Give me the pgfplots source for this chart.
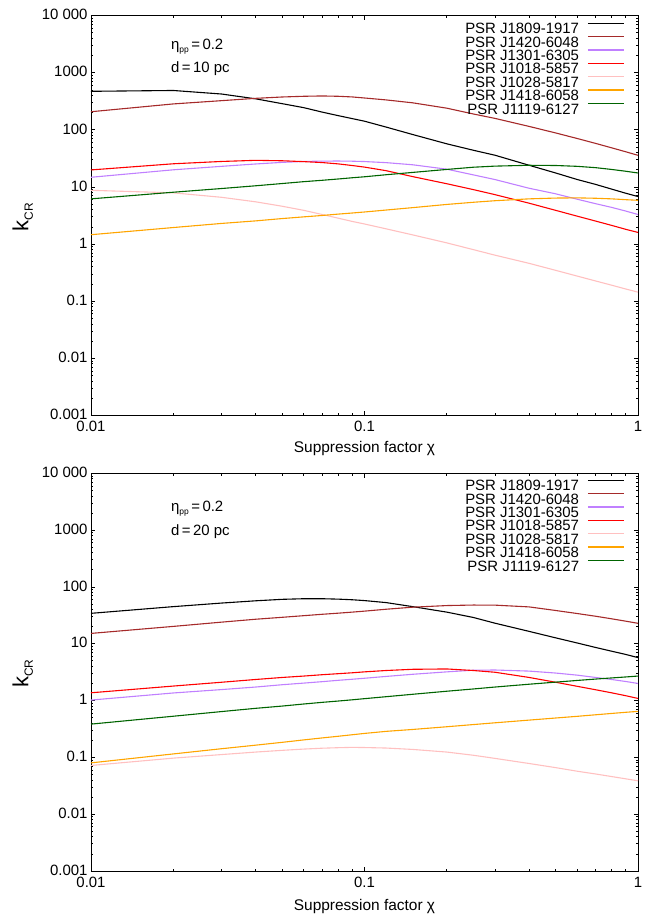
\documentclass[border=0pt]{standalone}
\usepackage{fontspec}
\setmainfont{Liberation Sans}
\usepackage{pgfplots}
\usepackage{pgfplotstable}
\pgfplotsset{compat=1.18}

\definecolor{cbrown}{HTML}{A52A2A}
\definecolor{cpurple}{HTML}{C080FF}
\definecolor{cred}{HTML}{FF0000}
\definecolor{cpink}{HTML}{FFC0C0}
\definecolor{corange}{HTML}{FFA500}
\definecolor{cgreen}{HTML}{006400}

% x  J1809  J1420  J1301  J1018  J1028  J1418  J1119
\pgfplotstableread{
x    a     b     c     d     e      f     g
0.01 474   208   14.8  19.9  8.75   1.46  6.2
0.02 490   285   20.0  25.5  7.9    1.95  8.1
0.03 425   325   23.0  28.0  6.6    2.3   9.4
0.04 350   357   25.3  29.3  5.5    2.55  10.5
0.05 288   377   27.0  28.8  4.6    2.8   11.5
0.06 245   388   28.0  27.8  3.9    3.0   12.4
0.07 205   393   28.4  26.8  3.3    3.17  13.1
0.08 178   388   28.5  25.4  2.85   3.35  13.8
0.09 158   378   28.3  23.8  2.5    3.5   14.5
0.10 142   362   27.9  22.3  2.25   3.65  15.1
0.12 112   335   26.7  19.3  1.85   3.95  16.4
0.15 83    298   24.5  15.2  1.45   4.35  18.0
0.20 57    240   20.5  11.4  1.05   4.95  20.3
0.25 44    190   16.3  9.0   0.80   5.4   22.2
0.30 36    159   13.5  7.35  0.64   5.75  23.2
0.40 24    115   9.5   5.2   0.46   6.2   24.0
0.50 17.6  88.4  7.6   3.9   0.347  6.4   23.8
0.60 13.5  70.6  6.1   3.08  0.275  6.45  23.0
0.70 11.1  58    5.1   2.53  0.226  6.35  21.8
0.80 9.2   48.6  4.4   2.13  0.191  6.2   20.3
0.90 7.8   41.5  3.8   1.82  0.164  6.0   18.9
1.00 6.8   35.9  3.3   1.6   0.144  5.85  17.6
}\toptab

\pgfplotstableread{
x    a     b     c     d     e      f      g
0.01 34.3  15.2  1.02  1.37  0.072  0.080  0.385
0.02 45    20.2  1.36  1.8   0.097  0.115  0.53
0.03 52    24    1.56  2.1   0.112  0.142  0.64
0.04 57    27    1.73  2.35  0.124  0.164  0.73
0.05 60.5  29.2  1.9   2.55  0.133  0.184  0.80
0.06 62    31.2  2.03  2.7   0.140  0.203  0.87
0.07 62    33    2.15  2.85  0.145  0.220  0.93
0.08 61    34.5  2.27  2.97  0.148  0.235  0.98
0.09 59.5  36    2.37  3.08  0.150  0.250  1.03
0.10 57.5  37.5  2.47  3.2   0.149  0.264  1.08
0.12 53    40.5  2.66  3.38  0.146  0.287  1.17
0.15 45    44    2.9   3.55  0.138  0.310  1.29
0.20 36    47    3.2   3.6   0.124  0.346  1.46
0.25 29    48    3.42  3.38  0.109  0.378  1.6
0.30 23    47.8  3.45  3.15  0.096  0.406  1.73
0.40 16.5  44.5  3.3   2.55  0.078  0.453  1.94
0.50 12.7  38.5  3.05  2.1   0.066  0.493  2.11
0.60 10.3  34    2.8   1.78  0.057  0.528  2.26
0.70 8.6   30.5  2.55  1.55  0.051  0.562  2.39
0.80 7.4   27.5  2.35  1.37  0.046  0.593  2.5
0.90 6.5   25    2.17  1.22  0.042  0.621  2.6
1.00 5.7   22.9  2.0   1.09  0.0387 0.645  2.7
}\bottab

\newcommand{\annot}[1]{\fontsize{15}{15}\selectfont #1}
\newcommand{\kcr}{\fontsize{22}{22}\selectfont k\raisebox{-4.5bp}{\fontsize{12}{12}\selectfont CR}}

\begin{document}
\begin{tikzpicture}
\useasboundingbox (0,0) rectangle (654bp,915bp);

\begin{axis}[
    clip mode=individual,
    xmode=log, ymode=log, scale only axis, width=547bp, height=399.7bp,
    anchor=south west, at={(91bp,499.6bp)},
    xmin=0.01, xmax=1, ymin=0.001, ymax=10000,
    xtick={0.01,0.1,1}, xticklabels={0.01,0.1,1},
    minor xtick={0.02,0.03,0.04,0.05,0.06,0.07,0.08,0.09,0.2,0.3,0.4,0.5,0.6,0.7,0.8,0.9},
    ytick={0.001,0.01,0.1,1,10,100,1000,10000},
    yticklabels={0.001,0.01,0.1,1,10,100,1000,10\hspace{4bp}000},
    minor ytick={0.002,0.003,0.004,0.005,0.006,0.007,0.008,0.009,0.02,0.03,0.04,0.05,0.06,0.07,0.08,0.09,0.2,0.3,0.4,0.5,0.6,0.7,0.8,0.9,2,3,4,5,6,7,8,9,20,30,40,50,60,70,80,90,200,300,400,500,600,700,800,900,2000,3000,4000,5000,6000,7000,8000,9000},
    tick label style={font=\fontsize{15}{15}\selectfont},
    xticklabel style={yshift=-2.5bp},
    yticklabel style={yshift=1bp},
    axis line style={line width=0.9bp},
    tick style={line width=0.8bp, black},
    major tick length=4.5bp, minor tick length=2.5bp,
    xlabel={Suppression factor χ},
    xlabel style={font=\fontsize{15.5}{16}\selectfont, at={(axis description cs:0.5,0)}, anchor=base, yshift=-37.3bp},
    every axis plot/.append style={line width=1.1bp},
    legend image code/.code={\draw[#1, line width=1.4bp] (0bp,5.3bp) -- (36bp,5.3bp);},
    legend plot pos=right,
    legend cell align=right,
    legend style={draw=none, fill=none, inner sep=0pt, outer sep=0pt,
      at={(axis description cs:0.9753,0.9825)}, anchor=north east,
      font=\fontsize{15}{15}\selectfont,
      nodes={inner sep=0pt, text height=10.5bp, text depth=0pt},
      row sep=2.1bp, column sep=8bp},
  ]
\addplot[black]   table[x=x,y=a] {\toptab};
\addplot[cbrown]  table[x=x,y=b] {\toptab};
\addplot[cpurple] table[x=x,y=c] {\toptab};
\addplot[cred]    table[x=x,y=d] {\toptab};
\addplot[cpink]   table[x=x,y=e] {\toptab};
\addplot[corange] table[x=x,y=f] {\toptab};
\addplot[cgreen]  table[x=x,y=g] {\toptab};
\legend{PSR J1809-1917,PSR J1420-6048,PSR J1301-6305,PSR J1018-5857,PSR J1028-5817,PSR J1418-6058,PSR J1119-6127}
\node[anchor=base west, inner sep=0pt] at (rel axis cs:0.146,0.916)
  {\annot{η\raisebox{-3bp}{\fontsize{8.5}{9}\selectfont pp}\hspace{2.5bp}=\hspace{2.5bp}0.2}};
\node[anchor=base west, inner sep=0pt] at (rel axis cs:0.146,0.857)
  {\annot{d\hspace{2.5bp}=\hspace{2.5bp}10 pc}};
\node[rotate=90, anchor=base, inner sep=0pt] at (rel axis cs:-0.1146,0.496) {\kcr};
\end{axis}

\begin{axis}[
    clip mode=individual,
    xmode=log, ymode=log, scale only axis, width=547bp, height=397.7bp,
    anchor=south west, at={(91bp,44bp)},
    xmin=0.01, xmax=1, ymin=0.001, ymax=10000,
    xtick={0.01,0.1,1}, xticklabels={0.01,0.1,1},
    minor xtick={0.02,0.03,0.04,0.05,0.06,0.07,0.08,0.09,0.2,0.3,0.4,0.5,0.6,0.7,0.8,0.9},
    ytick={0.001,0.01,0.1,1,10,100,1000,10000},
    yticklabels={0.001,0.01,0.1,1,10,100,1000,10\hspace{4bp}000},
    minor ytick={0.002,0.003,0.004,0.005,0.006,0.007,0.008,0.009,0.02,0.03,0.04,0.05,0.06,0.07,0.08,0.09,0.2,0.3,0.4,0.5,0.6,0.7,0.8,0.9,2,3,4,5,6,7,8,9,20,30,40,50,60,70,80,90,200,300,400,500,600,700,800,900,2000,3000,4000,5000,6000,7000,8000,9000},
    tick label style={font=\fontsize{15}{15}\selectfont},
    xticklabel style={yshift=-2.5bp},
    yticklabel style={yshift=1bp},
    axis line style={line width=0.9bp},
    tick style={line width=0.8bp, black},
    major tick length=4.5bp, minor tick length=2.5bp,
    xlabel={Suppression factor χ},
    xlabel style={font=\fontsize{15.5}{16}\selectfont, at={(axis description cs:0.5,0)}, anchor=base, yshift=-39.7bp},
    every axis plot/.append style={line width=1.1bp},
    legend image code/.code={\draw[#1, line width=1.4bp] (0bp,5.3bp) -- (36bp,5.3bp);},
    legend plot pos=right,
    legend cell align=right,
    legend style={draw=none, fill=none, inner sep=0pt, outer sep=0pt,
      at={(axis description cs:0.9753,0.984)}, anchor=north east,
      font=\fontsize{15}{15}\selectfont,
      nodes={inner sep=0pt, text height=10.5bp, text depth=0pt},
      row sep=2.1bp, column sep=8bp},
  ]
\addplot[black]   table[x=x,y=a] {\bottab};
\addplot[cbrown]  table[x=x,y=b] {\bottab};
\addplot[cpurple] table[x=x,y=c] {\bottab};
\addplot[cred]    table[x=x,y=d] {\bottab};
\addplot[cpink]   table[x=x,y=e] {\bottab};
\addplot[corange] table[x=x,y=f] {\bottab};
\addplot[cgreen]  table[x=x,y=g] {\bottab};
\legend{PSR J1809-1917,PSR J1420-6048,PSR J1301-6305,PSR J1018-5857,PSR J1028-5817,PSR J1418-6058,PSR J1119-6127}
\node[anchor=base west, inner sep=0pt] at (rel axis cs:0.146,0.9035)
  {\annot{η\raisebox{-3bp}{\fontsize{8.5}{9}\selectfont pp}\hspace{2.5bp}=\hspace{2.5bp}0.2}};
\node[anchor=base west, inner sep=0pt] at (rel axis cs:0.146,0.843)
  {\annot{d\hspace{2.5bp}=\hspace{2.5bp}20 pc}};
\node[rotate=90, anchor=base, inner sep=0pt] at (rel axis cs:-0.1146,0.496) {\kcr};
\end{axis}
\end{tikzpicture}
\end{document}
